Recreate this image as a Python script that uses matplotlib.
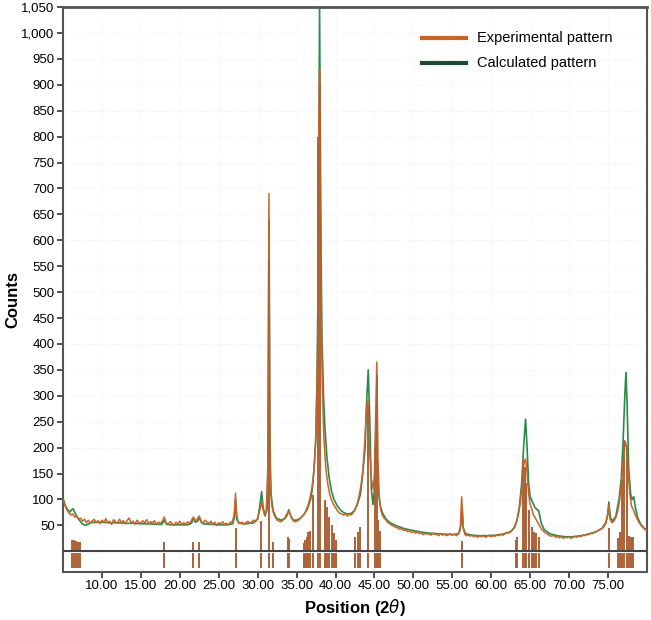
import matplotlib.pyplot as plt
from matplotlib.lines import Line2D
from matplotlib.ticker import FuncFormatter

plt.rcParams['font.family'] = ['Liberation Sans', 'DejaVu Sans']

# Experimental pattern (2theta, counts)
exp_x = [5.0, 5.25, 5.5, 5.75, 6.0, 6.25, 6.5, 6.75, 7.0, 7.25, 7.5, 7.75, 8.0, 8.25, 8.5, 8.75,
         9.0, 9.25, 9.5, 9.75, 10.0, 10.25, 10.5, 10.75, 11.0, 11.25, 11.5, 11.75, 12.0, 12.25, 12.5, 12.75,
         13.0, 13.25, 13.5, 13.75, 14.0, 14.25, 14.5, 14.75, 15.0, 15.25, 15.5, 15.75, 16.0, 16.25, 16.5, 16.75,
         17.0, 17.25, 17.5, 17.75, 18.0, 18.25, 18.5, 18.75, 19.0, 19.25, 19.5, 19.75, 20.0, 20.25, 20.5, 20.75,
         21.0, 21.25, 21.5, 21.75, 22.0, 22.25, 22.5, 22.75, 23.0, 23.25, 23.5, 23.75, 24.0, 24.25, 24.5, 24.75,
         25.0, 25.25, 25.5, 25.75, 26.0, 26.25, 26.5, 26.75, 27.0, 27.15, 27.3, 27.5, 27.75, 28.0, 28.25, 28.5,
         28.75, 29.0, 29.25, 29.5, 29.75, 30.0, 30.25, 30.5, 30.7, 30.9, 31.1, 31.3, 31.45, 31.6, 31.8, 32.0,
         32.25, 32.5, 32.75, 33.0, 33.25, 33.5, 33.75, 34.0, 34.25, 34.5, 34.75, 35.0, 35.25, 35.5, 35.75, 36.0,
         36.25, 36.5, 36.75, 37.0, 37.25, 37.5, 37.7, 37.85, 37.95, 38.05, 38.15, 38.3, 38.5, 38.75, 39.0, 39.25,
         39.5, 39.75, 40.0, 40.25, 40.5, 40.75, 41.0, 41.25, 41.5, 41.75, 42.0, 42.25, 42.5, 42.75, 43.0, 43.25,
         43.5, 43.75, 44.0, 44.15, 44.35, 44.6, 44.85, 45.0, 45.15, 45.3, 45.45, 45.6, 45.8, 46.0, 46.25, 46.5,
         46.75, 47.0, 47.25, 47.5, 47.75, 48.0, 48.25, 48.5, 48.75, 49.0, 49.25, 49.5, 49.75, 50.0, 50.25, 50.5,
         50.75, 51.0, 51.25, 51.5, 51.75, 52.0, 52.25, 52.5, 52.75, 53.0, 53.25, 53.5, 53.75, 54.0, 54.25, 54.5,
         54.75, 55.0, 55.25, 55.5, 55.75, 56.0, 56.2, 56.4, 56.6, 56.85, 57.0, 57.25, 57.5, 57.75, 58.0, 58.25,
         58.5, 58.75, 59.0, 59.25, 59.5, 59.75, 60.0, 60.25, 60.5, 60.75, 61.0, 61.25, 61.5, 61.75, 62.0, 62.25,
         62.5, 62.75, 63.0, 63.25, 63.5, 63.75, 64.0, 64.2, 64.4, 64.6, 64.8, 65.0, 65.2, 65.4, 65.6, 65.8,
         66.0, 66.25, 66.5, 66.75, 67.0, 67.25, 67.5, 67.75, 68.0, 68.25, 68.5, 68.75, 69.0, 69.25, 69.5, 69.75,
         70.0, 70.25, 70.5, 70.75, 71.0, 71.25, 71.5, 71.75, 72.0, 72.25, 72.5, 72.75, 73.0, 73.25, 73.5, 73.75,
         74.0, 74.25, 74.5, 74.75, 75.0, 75.1, 75.25, 75.5, 75.75, 76.0, 76.25, 76.5, 76.75, 77.0, 77.2, 77.4,
         77.6, 77.8, 78.0, 78.25, 78.5, 78.75, 79.0, 79.25, 79.5, 79.75, 80.0]
exp_y = [100, 88, 80, 74, 70, 72, 66, 68, 62, 64, 58, 62, 55, 60, 54, 58,
         62, 55, 59, 53, 60, 56, 63, 55, 58, 52, 61, 57, 54, 62, 56, 59,
         53, 60, 64, 55, 58, 52, 60, 56, 54, 59, 55, 61, 53, 57, 55, 59,
         52, 56, 54, 58, 66, 55, 52, 57, 54, 50, 56, 53, 58, 51, 55, 52,
         57, 53, 60, 66, 58, 63, 68, 57, 55, 60, 56, 54, 58, 52, 56, 50,
         55, 53, 57, 52, 54, 51, 56, 57, 72, 112, 70, 57, 54, 56, 52, 55,
         58, 54, 57, 60, 58, 64, 78, 95, 80, 70, 78, 150, 690, 150, 90, 75,
         66, 60, 58, 57, 60, 65, 72, 78, 68, 60, 57, 58, 60, 64, 68, 72,
         80, 90, 105, 125, 160, 230, 400, 830, 930, 700, 480, 320, 220, 160, 130, 110,
         98, 90, 84, 78, 74, 72, 70, 72, 68, 71, 70, 74, 80, 90, 105, 125,
         155, 210, 285, 290, 200, 140, 120, 150, 260, 365, 180, 110, 80, 70, 64, 60,
         55, 53, 50, 48, 46, 45, 42, 44, 40, 41, 38, 40, 36, 38, 35, 37,
         34, 36, 32, 35, 33, 34, 31, 35, 32, 33, 30, 34, 31, 33, 30, 32,
         34, 31, 33, 30, 33, 40, 105, 45, 33, 30, 32, 29, 31, 28, 30, 27,
         30, 28, 31, 27, 29, 31, 28, 30, 29, 32, 30, 33, 31, 34, 36, 35,
         38, 42, 48, 58, 72, 95, 140, 170, 178, 150, 110, 90, 82, 70, 66, 60,
         55, 48, 42, 38, 35, 33, 30, 29, 31, 27, 29, 26, 28, 25, 27, 26,
         28, 25, 27, 29, 27, 30, 28, 31, 30, 33, 32, 35, 34, 37, 38, 40,
         42, 44, 48, 55, 75, 90, 62, 55, 58, 65, 78, 100, 135, 180, 212, 200,
         150, 110, 88, 80, 70, 62, 55, 50, 45, 42, 40]

# Calculated pattern
calc_x = [5.0, 5.3, 5.6, 5.9, 6.1, 6.3, 6.6, 7.0, 7.4, 7.8, 8.2, 8.6, 9.0, 10.0, 11.0, 12.0,
          13.0, 14.0, 15.0, 16.0, 17.0, 17.7, 18.0, 18.3, 19.0, 20.0, 21.0, 21.5, 21.75, 22.0, 22.3, 22.5,
          22.75, 23.0, 24.0, 25.0, 26.0, 26.8, 27.0, 27.15, 27.3, 27.6, 28.5, 29.5, 30.0, 30.3, 30.5, 30.7,
          30.95, 31.2, 31.35, 31.45, 31.55, 31.7, 32.0, 32.4, 33.0, 33.5, 33.8, 34.0, 34.25, 34.6, 35.0, 35.5,
          36.0, 36.4, 36.8, 37.0, 37.2, 37.45, 37.65, 37.8, 37.95, 38.1, 38.25, 38.45, 38.65, 38.9, 39.2, 39.5,
          39.8, 40.2, 40.6, 41.0, 41.5, 42.0, 42.4, 42.8, 43.2, 43.5, 43.8, 44.0, 44.2, 44.4, 44.6, 44.8,
          45.0, 45.2, 45.35, 45.5, 45.7, 46.0, 46.5, 47.0, 48.0, 49.0, 50.0, 51.0, 52.0, 53.0, 54.0, 55.0,
          55.8, 56.1, 56.25, 56.4, 56.7, 57.5, 58.5, 59.5, 60.5, 61.5, 62.5, 63.0, 63.3, 63.6, 63.9, 64.15,
          64.4, 64.6, 64.8, 65.0, 65.3, 65.6, 65.9, 66.1, 66.4, 66.8, 67.5, 68.5, 69.5, 70.5, 71.5, 72.5,
          73.5, 74.2, 74.7, 74.95, 75.1, 75.3, 75.6, 76.0, 76.4, 76.7, 76.95, 77.15, 77.3, 77.45, 77.65, 77.9,
          78.1, 78.3, 78.5, 78.8, 79.2, 79.6, 80.0]
calc_y = [102, 88, 80, 76, 80, 82, 72, 62, 54, 50, 52, 55, 56, 56, 55, 55,
          54, 54, 53, 53, 52, 52, 60, 52, 51, 51, 51, 54, 64, 56, 58, 66,
          56, 53, 52, 51, 51, 53, 65, 100, 62, 54, 53, 55, 62, 90, 115, 85,
          68, 80, 200, 640, 250, 110, 78, 64, 60, 63, 70, 80, 68, 60, 60, 64,
          72, 82, 100, 118, 150, 210, 350, 600, 1050, 650, 420, 300, 235, 180, 140, 115,
          100, 88, 80, 75, 72, 73, 78, 90, 110, 150, 200, 290, 350, 250, 120, 90,
          120, 240, 180, 120, 90, 75, 62, 55, 48, 43, 40, 37, 35, 34, 33, 32,
          34, 50, 85, 45, 34, 31, 30, 30, 31, 33, 38, 46, 60, 85, 130, 200,
          255, 200, 130, 105, 95, 85, 80, 78, 55, 42, 34, 30, 28, 28, 30, 33,
          38, 44, 55, 70, 95, 65, 58, 68, 100, 140, 220, 300, 345, 280, 160, 110,
          100, 105, 85, 65, 52, 45, 40]

# Reference peak positions and stick heights
stick_pos = [6.2, 6.45, 6.7, 6.95, 7.2, 18.0, 21.7, 22.5, 27.2, 30.45, 31.5, 31.95,
             33.9, 34.05, 35.9, 36.1, 36.3, 36.5, 36.7, 37.05, 37.75, 38.05,
             38.7, 38.95, 39.2, 39.5, 39.8, 40.1, 42.55, 42.85, 43.2, 44.2,
             45.05, 45.3, 45.5, 45.7, 56.3, 63.15, 63.35, 64.1, 64.3, 64.5,
             64.9, 65.2, 65.5, 65.8, 66.1, 75.1, 76.3, 76.55, 76.85, 77.1, 77.4,
             77.7, 78.0, 78.25]
stick_h = [21, 21, 19, 18, 18, 18, 18, 18, 45, 58, 560, 18,
           28, 24, 15, 22, 27, 37, 40, 108, 800, 900,
           98, 85, 66, 50, 35, 21, 27, 37, 46, 280,
           200, 340, 60, 40, 20, 21, 28, 176, 162, 131,
           79, 47, 37, 35, 28, 45, 25, 37, 140, 214, 200,
           30, 27, 27]

x_ticks = [10, 15, 20, 25, 30, 35, 40, 45, 50, 55, 60, 65, 70, 75]
y_ticks = list(range(50, 1051, 50))
series_names = ['Experimental pattern', 'Calculated pattern']

orange = '#c8642a'
green = '#2b8a48'
stick_col = '#ad6136'

fig = plt.figure(figsize=(6.51, 6.2), dpi=100)
ax = fig.add_axes([63 / 651, 1 - 572 / 620, 584 / 651, 565 / 620])

ax.plot(calc_x, calc_y, color=green, lw=1.2, zorder=3)
ax.plot(exp_x, exp_y, color=orange, lw=1.1, zorder=4)
ax.vlines(stick_pos, 0, stick_h, color=stick_col, lw=1.4, zorder=5)
ax.vlines(stick_pos, -33, -4, color=stick_col, lw=1.4, zorder=5)
ax.axhline(0, color='#444444', lw=1.5, zorder=6)

ax.set_xlim(5, 80)
ax.set_ylim(-40, 1050)
ax.set_xticks(x_ticks)
ax.set_yticks(y_ticks)
ax.xaxis.set_major_formatter(FuncFormatter(lambda v, p: f'{v:.2f}'))
ax.yaxis.set_major_formatter(FuncFormatter(lambda v, p: f'{int(v):,}'))
ax.tick_params(direction='out', length=4, width=1.3, color='#444444', labelsize=9.5, pad=2)
ax.grid(True, color='#ececec', lw=0.6, ls=':')
ax.set_axisbelow(True)

for side in ['left', 'right', 'bottom']:
    ax.spines[side].set_color('#555555')
    ax.spines[side].set_linewidth(1.5)
ax.spines['top'].set_color('#555555')
ax.spines['top'].set_linewidth(2)

# axis titles placed in figure coords so they stay inside the canvas
fig.text(355 / 651, 1 - 607 / 620, 'Position (2$\\it{\\theta}$)', fontsize=12,
         fontweight='bold', ha='center', va='center')
fig.text(13 / 651, 1 - 300 / 620, 'Counts', fontsize=12, fontweight='bold',
         rotation=90, ha='center', va='center')

# legend drawn by hand to match its place
for i, (name, col) in enumerate(zip(series_names, [orange, '#1c4a2e'])):
    yy = 1 - (38 + 25 * i) / 620
    fig.add_artist(Line2D([422 / 651, 466 / 651], [yy, yy], color=col, lw=3))
    fig.text(477 / 651, yy, name, fontsize=10.5, va='center', ha='left')

fig.savefig('out.png', dpi=100)
